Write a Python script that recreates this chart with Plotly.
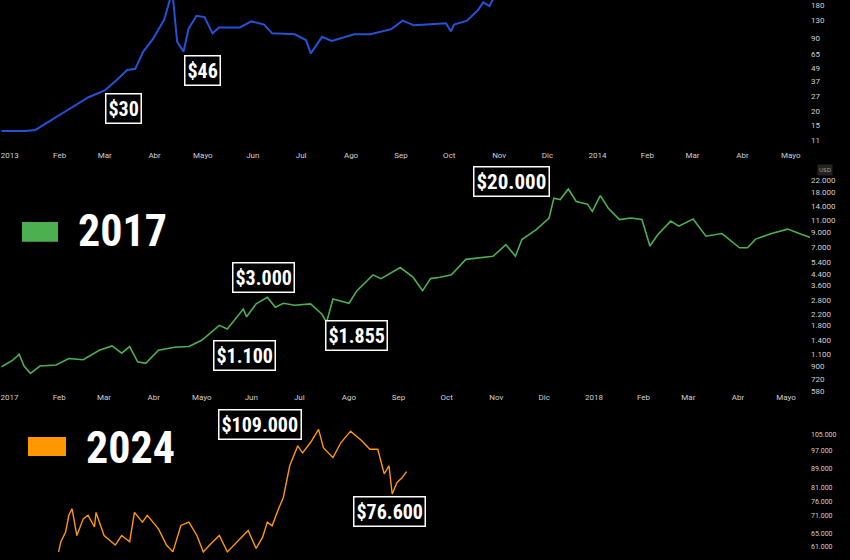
import plotly.graph_objects as go

# panel 1: 2013 (days since 1 Jan 2013)
days_2013 = [-5, 10, 16, 29, 35, 49, 59, 66, 73, 78, 83, 89, 96, 101, 104, 108, 111, 116, 121, 126, 130,
             143, 150, 158, 163, 177, 184, 187, 194, 200, 214, 224, 237, 244, 251, 271, 274, 276, 284,
             291, 294, 298, 302, 305]
price_2013 = [13.2, 13.2, 13.5, 17.5, 20, 26.6, 30.6, 37.5, 46.8, 48, 68.5, 89, 133, 240, 84, 68.5, 109,
              144, 140, 100, 113, 113, 128, 120, 100, 98, 87, 66, 93, 85.5, 98, 98, 109, 130, 118, 123,
              104, 120, 130, 163, 190, 176, 230, 400]

# panel 2: 2017 (days since 1 Jan 2017)
days_2017 = [-5, 2, 6, 9, 13, 19, 29, 37, 46, 56, 64, 70, 75, 80, 85, 93, 103, 112, 120, 131, 136, 141,
             146, 148, 154, 161, 166, 171, 178, 188, 195, 198, 202, 212, 217, 227, 232, 244, 252, 258,
             263, 269, 276, 285, 293, 302, 310, 316, 320, 329, 337, 340, 344, 349, 354, 361, 364, 369,
             374, 381, 388, 395, 400, 405, 413, 418, 427, 435, 445, 451, 456, 461, 466, 476, 486, 495, 501]
price_2017 = [887, 995, 1100, 898, 792, 898, 914, 1023, 1000, 1180, 1270, 1120, 1257, 966, 940, 1180,
              1240, 1257, 1400, 1810, 1700, 2020, 2400, 2100, 2620, 2930, 2470, 2650, 2560, 2620, 2200,
              1913, 2850, 2650, 3290, 4320, 4050, 4900, 4150, 3290, 4050, 4150, 4320, 5640, 5800, 5950,
              7280, 5950, 7940, 9420, 11500, 16200, 15800, 18960, 15300, 14600, 12900, 16900, 13600,
              11200, 11500, 11200, 7100, 8650, 10900, 10000, 11300, 8410, 8800, 7730, 6890, 6890, 8000,
              8800, 9500, 8650, 8170]

# panel 3: 2024
days_2024 = [30.6, 32, 35, 37, 39, 42, 46, 49, 53, 54, 59, 66, 70, 75, 78, 83, 86, 93, 98, 102, 107,
             112, 117, 121, 125, 131, 136, 144, 149, 154, 158, 161, 164, 168, 171, 175, 180, 183, 188,
             193, 196, 202, 207, 213, 220, 225, 230, 234, 237, 239, 242, 245, 248]
price_2024 = [59500, 62500, 65500, 71000, 73300, 64400, 69800, 71000, 67100, 72000, 64400, 61500, 64400,
              62500, 72000, 68700, 71000, 66500, 61500, 59500, 67600, 68700, 64400, 59500, 61500, 64400,
              59500, 63500, 66000, 60500, 63800, 68700, 67500, 73300, 77400, 90200, 99300, 96000,
              100900, 107500, 98400, 93800, 100900, 106600, 101800, 97700, 97700, 86700, 90200, 78700,
              83200, 85000, 87700]

month_days = [0, 31, 59, 90, 120, 151, 181, 212, 243, 273, 304, 334, 365, 396, 424, 455, 485]
months_2013 = ["2013", "Feb", "Mar", "Abr", "Mayo", "Jun", "Jul", "Ago", "Sep", "Oct", "Nov", "Dic",
               "2014", "Feb", "Mar", "Abr", "Mayo"]
months_2017 = ["2017", "Feb", "Mar", "Abr", "Mayo", "Jun", "Jul", "Ago", "Sep", "Oct", "Nov", "Dic",
               "2018", "Feb", "Mar", "Abr", "Mayo"]

ticks_2013 = [11, 15, 20, 27, 37, 49, 65, 90, 130, 180]
ticks_2017 = [580, 720, 900, 1100, 1400, 1800, 2200, 2800, 3600, 4400, 5400, 7000, 9000, 11000,
              14000, 18000, 22000]
ticks_2024 = [61000, 65000, 71000, 76000, 81000, 89000, 97000, 105000]


def fmt(v):
    return f"{v:,}".replace(",", ".")


W, H = 850, 560
fig = go.Figure()
fig.add_trace(go.Scatter(x=days_2013, y=price_2013, mode="lines", line=dict(color="#2451d6", width=2),
                         xaxis="x", yaxis="y"))
fig.add_trace(go.Scatter(x=days_2017, y=price_2017, mode="lines", line=dict(color="#4caf50", width=1.6),
                         xaxis="x2", yaxis="y2"))
fig.add_trace(go.Scatter(x=days_2024, y=price_2024, mode="lines", line=dict(color="#ff9800", width=1.4),
                         xaxis="x3", yaxis="y3"))

xdom = [0, 810 / W]
tickfont = dict(color="#d0d0d0", size=8, family="Roboto")
fig.update_layout(
    width=W, height=H, margin=dict(l=0, r=0, t=0, b=0),
    paper_bgcolor="black", plot_bgcolor="black", showlegend=False,
    xaxis=dict(domain=xdom, range=[-6, 497], tickvals=month_days, ticktext=months_2013,
               showgrid=False, zeroline=False, tickfont=tickfont, ticks="", anchor="y"),
    yaxis=dict(domain=[1 - 150 / H, 1], type="log", range=[0.962, 2.30], side="right",
               tickvals=ticks_2013, ticktext=[str(t) for t in ticks_2013], showgrid=False,
               tickfont=tickfont, anchor="x"),
    xaxis2=dict(domain=xdom, range=[-6, 500], tickvals=month_days, ticktext=months_2017,
                showgrid=False, zeroline=False, tickfont=tickfont, anchor="y2"),
    yaxis2=dict(domain=[1 - 395 / H, 1 - 178 / H], type="log", range=[2.763, 4.372], side="right",
                tickvals=ticks_2017, ticktext=[fmt(t) for t in ticks_2017], showgrid=False,
                tickfont=tickfont, anchor="x2"),
    xaxis3=dict(domain=xdom, range=[-6, 500], visible=False, anchor="y3"),
    yaxis3=dict(domain=[0, 1 - 420 / H], type="log", range=[4.768, 5.059], side="right",
                tickvals=ticks_2024, ticktext=[fmt(t) for t in ticks_2024], showgrid=False,
                tickfont=dict(color="#d0d0d0", size=7, family="Roboto"), anchor="x3"),
)

labels = [("$30", 123, 109, 20), ("$46", 202, 71, 20), ("$20.000", 512, 183, 21),
          ("$3.000", 263, 280, 20), ("$1.100", 245, 359, 20), ("$1.855", 356, 339, 20),
          ("$109.000", 260, 428, 20), ("$76.600", 389, 516, 20)]
font_main = "Roboto Condensed, Liberation Sans Narrow, Roboto, sans-serif"
for text, px, py, size in labels:
    fig.add_annotation(xref="paper", yref="paper", x=px / W, y=1 - py / H, text=f"<b>{text}</b>",
                       xanchor="center", yanchor="middle",
                       showarrow=False, font=dict(color="white", size=size, family=font_main),
                       bgcolor="black", bordercolor="white", borderwidth=1.5, borderpad=2)

for year, px, py, color, x0, x1, y0, y1 in [("2017", 122, 233, "#4caf50", 22, 58, 224, 244),
                                             ("2024", 130, 452, "#ff9800", 28, 66, 441, 460)]:
    fig.add_annotation(xref="paper", yref="paper", x=px / W, y=1 - py / H, text=f"<b>{year}</b>",
                       xanchor="center", yanchor="middle",
                       showarrow=False, font=dict(color="white", size=44, family=font_main))
    fig.add_shape(type="rect", xref="paper", yref="paper", x0=x0 / W, x1=x1 / W,
                  y0=1 - y1 / H, y1=1 - y0 / H, fillcolor=color, line=dict(width=0))

fig.add_annotation(xref="paper", yref="paper", x=825 / W, y=1 - 172 / H, text="USD", showarrow=False,
                   xanchor="center", yanchor="middle",
                   font=dict(color="#aaaaaa", size=6), bgcolor="#222222")

# page body has a default margin; remove it so the figure sits at the window corner
fig.write_html("out.html", config={"displayModeBar": False},
               post_script="document.body.style.margin='0';")
